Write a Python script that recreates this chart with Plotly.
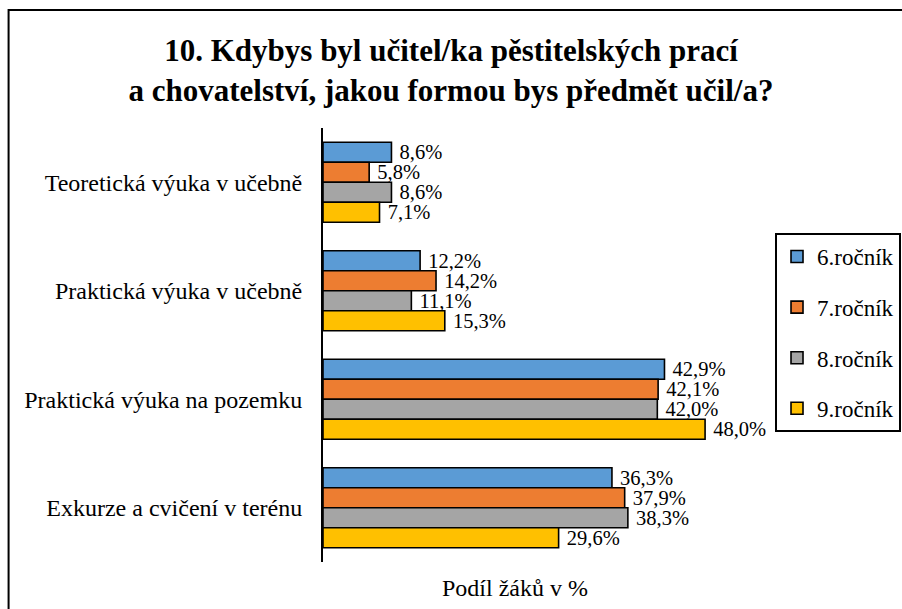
import plotly.graph_objects as go

categories = ["Teoretická výuka v učebně", "Praktická výuka v učebně",
              "Praktická výuka na pozemku", "Exkurze a cvičení v terénu"]
series_names = ["6.ročník", "7.ročník", "8.ročník", "9.ročník"]
values_6 = [8.6, 12.2, 42.9, 36.3]
values_7 = [5.8, 14.2, 42.1, 37.9]
values_8 = [8.6, 11.1, 42.0, 38.3]
values_9 = [7.1, 15.3, 48.0, 29.6]
colors = ["#5B9BD5", "#ED7D31", "#A5A5A5", "#FFC000"]

all_values = [values_6, values_7, values_8, values_9]
FONT = "Liberation Serif"

fig = go.Figure()
for name, vals, col in zip(series_names, all_values, colors):
    fig.add_trace(go.Bar(
        y=categories, x=vals, name=name, orientation="h",
        marker=dict(color=col, line=dict(color="black", width=1.6)),
        texttemplate="\u00a0%{x:.1f}%", textposition="outside",
        constraintext="none",
        textfont=dict(family=FONT, size=20.5, color="black"),
        cliponaxis=False, legendgroup=name,
    ))

fig.update_layout(
    width=902, height=609,
    margin=dict(l=323, r=181, t=128, b=47, autoexpand=False),
    paper_bgcolor="white", plot_bgcolor="white",
    separators=", ",
    barmode="group", bargap=0.263, bargroupgap=0,
    font=dict(family=FONT, color="black"),
    title=dict(text="<b>10. Kdybys byl učitel/ka pěstitelských prací<br>a chovatelství, jakou formou bys předmět učil/a?</b>",
               x=0.5, xanchor="center", y=0.900, yanchor="middle",
               font=dict(family=FONT, size=31, color="black")),
    xaxis=dict(range=[0, 50], showgrid=False, zeroline=False, showticklabels=False,
               showline=False, ticks=""),
    yaxis=dict(categoryorder="array", categoryarray=categories, autorange="reversed",
               showline=True, linecolor="black", linewidth=2, ticks="",
               showgrid=False, ticklabelstandoff=14,
               tickfont=dict(family=FONT, size=24, color="black")),
    legend=dict(x=1.1357, y=0.758, xanchor="left", yanchor="top",
                bordercolor="black", borderwidth=2, bgcolor="white",
                font=dict(family=FONT, size=23, color="black"),
                tracegroupgap=17.7, traceorder="grouped"),
    showlegend=True,
)

fig.add_annotation(text="Podíl žáků v %", xref="paper", yref="paper",
                   x=0.482, y=-0.06, xanchor="center", yanchor="middle",
                   showarrow=False, font=dict(family=FONT, size=24, color="black"))

fig.add_shape(type="rect", xref="paper", yref="paper",
              x0=-0.790, y0=-0.115, x1=1.462, y1=1.272,
              line=dict(color="black", width=2), fillcolor="rgba(0,0,0,0)", layer="below")

fig.write_html("out.html", config={"displayModeBar": False},
               post_script="document.body.style.margin='0';")
